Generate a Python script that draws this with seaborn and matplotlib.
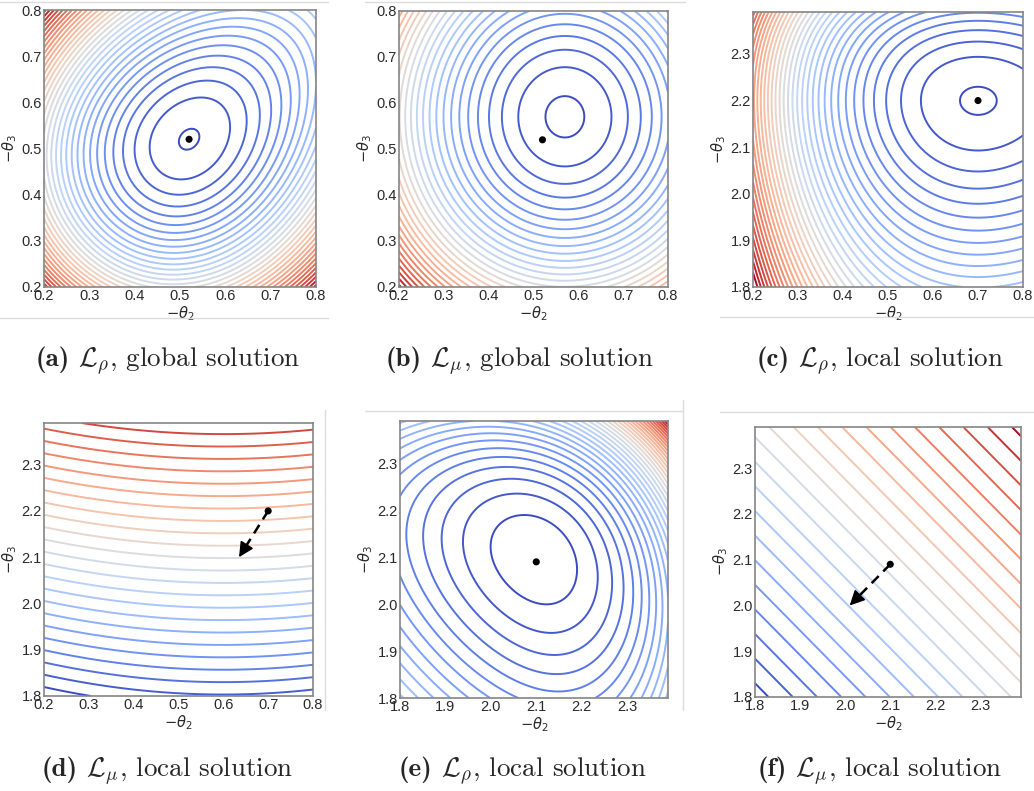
import numpy as np
import matplotlib
matplotlib.use("Agg")
import matplotlib.pyplot as plt
from matplotlib.colors import Normalize
from matplotlib.lines import Line2D
import seaborn as sns

sns.set_style("white")
plt.rcParams["font.family"] = ["Liberation Sans", "DejaVu Sans"]
plt.rcParams["axes.unicode_minus"] = True

# ---------------------------------------------------------------- grids
theta_global = np.linspace(0.2, 0.8, 301)   # -theta_2 / -theta_3 range, global runs
theta_local = np.linspace(1.8, 2.39, 301)   # -theta_2 / -theta_3 range, local runs

ticks_global = [0.2, 0.3, 0.4, 0.5, 0.6, 0.7, 0.8]
ticks_local = [1.8, 1.9, 2.0, 2.1, 2.2, 2.3]

# ---------------------------------------------------------------- surfaces
# (a) L_rho, global: tilted bowl, steeper towards the lower-left
a_center = [0.52, 0.52]
a_curvature = [110.0, 180.0]     # along / across the main diagonal
a_skew = 90.0
a_levels = [0.07, 1.0, 33]       # first level, spacing, count

# (b) L_mu, global
b_center = [0.57, 0.57]
b_curvature = [112.0, 104.0]
b_levels = [0.21, 1.0, 30]

# (c) L_rho, local
c_center = [0.70, 2.20]
c_curvature = [120.0, 220.0]
c_rate = [-3.0, 4.0]
c_levels = [0.10, 1.0, 37]

# (d) L_mu, local: bent horizontal level sets
d_center = [0.60, 2.20]
d_bend = [0.25, -0.05]
d_levels = [-0.4236, 0.0268, 25]

# (e) L_rho, local
e_center = [2.10, 2.10]
e_scale = 7.84
e_rate = 4.0
e_coupling = 0.35
e_levels = [0.71, 1.0, 35]

# (f) L_mu, local: planar surface
f_levels = [3.63, 0.0538, 22]

# ---------------------------------------------------------------- markers
solution_points = {
    "a": [0.52, 0.52], "b": [0.52, 0.52], "c": [0.70, 2.20],
    "d": [0.70, 2.20], "e": [2.10, 2.09], "f": [2.10, 2.09],
}
step_arrows = {
    "d": [[0.70, 2.20], [0.635, 2.10]],
    "f": [[2.10, 2.09], [2.01, 2.00]],
}

caption_tags = {"a": "(a)", "b": "(b)", "c": "(c)", "d": "(d)", "e": "(e)", "f": "(f)"}
caption_texts = {
    "a": r"$\mathcal{L}_{\rho}$, global solution",
    "b": r"$\mathcal{L}_{\mu}$, global solution",
    "c": r"$\mathcal{L}_{\rho}$, local solution",
    "d": r"$\mathcal{L}_{\mu}$, local solution",
    "e": r"$\mathcal{L}_{\rho}$, local solution",
    "f": r"$\mathcal{L}_{\mu}$, local solution",
}


def phi(t):
    return np.expm1(t) - t


def surface_a():
    X, Y = np.meshgrid(theta_global, theta_global)
    dx, dy = X - a_center[0], Y - a_center[1]
    u = (dx + dy) / np.sqrt(2)
    v = (dy - dx) / np.sqrt(2)
    return X, Y, a_curvature[0] * u**2 + a_curvature[1] * v**2 - a_skew * u**3


def surface_b():
    X, Y = np.meshgrid(theta_global, theta_global)
    dx, dy = X - b_center[0], Y - b_center[1]
    return X, Y, b_curvature[0] * dx**2 + b_curvature[1] * dy**2


def surface_c():
    X, Y = np.meshgrid(theta_global, theta_local)
    dx, dy = X - c_center[0], Y - c_center[1]
    kx, ky = c_rate
    Z = c_curvature[0] * phi(kx * dx) / kx**2 + c_curvature[1] * phi(ky * dy) / ky**2
    return X, Y, Z


def surface_d():
    X, Y = np.meshgrid(theta_global, theta_local)
    dx, dy = X - d_center[0], Y - d_center[1]
    return X, Y, dy - (d_bend[0] + d_bend[1] * dy) * dx**2


def surface_e():
    X, Y = np.meshgrid(theta_local, theta_local)
    dx, dy = X - e_center[0], Y - e_center[1]
    k = e_rate
    Z = e_scale * (phi(k * dx) + phi(k * dy) + e_coupling * phi(k * (dx + dy)))
    return X, Y, Z


def surface_f():
    X, Y = np.meshgrid(theta_local, theta_local)
    return X, Y, X + Y


def make_levels(spec):
    start, step, n = spec
    return start + step * np.arange(n)


cmap = sns.color_palette("coolwarm", as_cmap=True)

W, H = 1034, 791
fig = plt.figure(figsize=(W / 100, H / 100), dpi=100)


def px_axes(left, right, top, bottom):
    return fig.add_axes([left / W, 1 - bottom / H, (right - left) / W, (bottom - top) / H])


panels = [
    ("a", surface_a, a_levels, (44, 316, 10, 287), ticks_global, ticks_global, (0.2, 0.8), (0.2, 0.8)),
    ("b", surface_b, b_levels, (399, 668, 11, 287), ticks_global, ticks_global, (0.2, 0.8), (0.2, 0.8)),
    ("c", surface_c, c_levels, (753, 1023, 12, 287), ticks_global, ticks_local, (0.2, 0.8), (1.8, 2.39)),
    ("d", surface_d, d_levels, (44, 313, 423, 696), ticks_global, ticks_local, (0.2, 0.8), (1.8, 2.39)),
    ("e", surface_e, e_levels, (400, 668, 421, 698), ticks_local, ticks_local, (1.8, 2.39), (1.8, 2.39)),
    ("f", surface_f, f_levels, (755, 1021, 427, 697), ticks_local, ticks_local, (1.8, 2.39), (1.8, 2.39)),
]

for key, surf, lev_spec, box, xt, yt, xl, yl in panels:
    ax = px_axes(*box)
    X, Y, Z = surf()
    levels = make_levels(lev_spec)
    ax.contour(X, Y, Z, levels=levels, cmap=cmap,
               norm=Normalize(levels.min(), levels.max()), linewidths=1.4)

    if key in step_arrows:
        (x0, y0), (x1, y1) = step_arrows[key]
        dxa, dya = x1 - x0, y1 - y0
        ax.plot([x0, x1 - 0.12 * dxa], [y0, y1 - 0.12 * dya], color="black",
                lw=1.8, ls=(0, (4, 2.6)), zorder=4)
        ax.annotate("", xy=(x1, y1), xytext=(x1 - 0.2 * dxa, y1 - 0.2 * dya),
                    arrowprops=dict(arrowstyle="-|>,head_length=0.9,head_width=0.45",
                                    color="black", lw=1.2, shrinkA=0, shrinkB=0),
                    zorder=5)

    px, py = solution_points[key]
    sns.scatterplot(x=[px], y=[py], color="black", s=26, edgecolor="none",
                    ax=ax, zorder=6, legend=False)

    ax.set_xlim(*xl)
    ax.set_ylim(*yl)
    ax.set_xticks(xt)
    ax.set_yticks(yt)
    ax.set_xticklabels([f"{t:.1f}" for t in xt])
    ax.set_yticklabels([f"{t:.1f}" for t in yt])
    ax.tick_params(length=0, pad=1.5, labelsize=10.5, colors="#2a2a2a")
    ax.set_xlabel(r"$-\theta_2$", fontsize=10.5, color="#2a2a2a", labelpad=1)
    ax.set_ylabel(r"$-\theta_3$", fontsize=10.5, color="#2a2a2a", labelpad=2)
    for sp in ax.spines.values():
        sp.set_color("#858585")
        sp.set_linewidth(1.2)
    ax.set_facecolor("white")

# captions under each panel: bold tag followed by roman text, centred as one line
caption_pos = {"a": (168, 366), "b": (520, 366), "c": (880, 366),
               "d": (168, 776), "e": (523, 776), "f": (880, 776)}
cap_size = 19.5
renderer = fig.canvas.get_renderer()
for key, (cx, cy) in caption_pos.items():
    tag = fig.text(0, 1 - cy / H, caption_tags[key], fontfamily="cmb10",
                   fontsize=cap_size, va="baseline", ha="left")
    rest = fig.text(0, 1 - cy / H, caption_texts[key], fontfamily="cmr10",
                    math_fontfamily="cm", fontsize=cap_size, va="baseline", ha="left")
    w1 = tag.get_window_extent(renderer).width
    w2 = rest.get_window_extent(renderer).width
    gap = 0.42 * cap_size
    x_left = cx - (w1 + gap + w2) / 2
    tag.set_x(x_left / W)
    rest.set_x((x_left + w1 + gap) / W)

# light frame rules around the panel images
frame_rules = [
    ((0, 328), (2, 2)), ((0, 328), (318, 318)),
    ((365, 685), (2, 2)),
    ((720, 1034), (317, 317)),
    ((325, 325), (410, 710)),
    ((365, 683), (411, 411)), ((683, 683), (400, 710)),
    ((720, 1034), (412, 412)),
]
for (x0, x1), (y0, y1) in frame_rules:
    fig.add_artist(Line2D([x0 / W, x1 / W], [1 - y0 / H, 1 - y1 / H],
                          transform=fig.transFigure, color="#dcdcdc", lw=1.0))

fig.savefig("out.png", dpi=100, facecolor="white")
